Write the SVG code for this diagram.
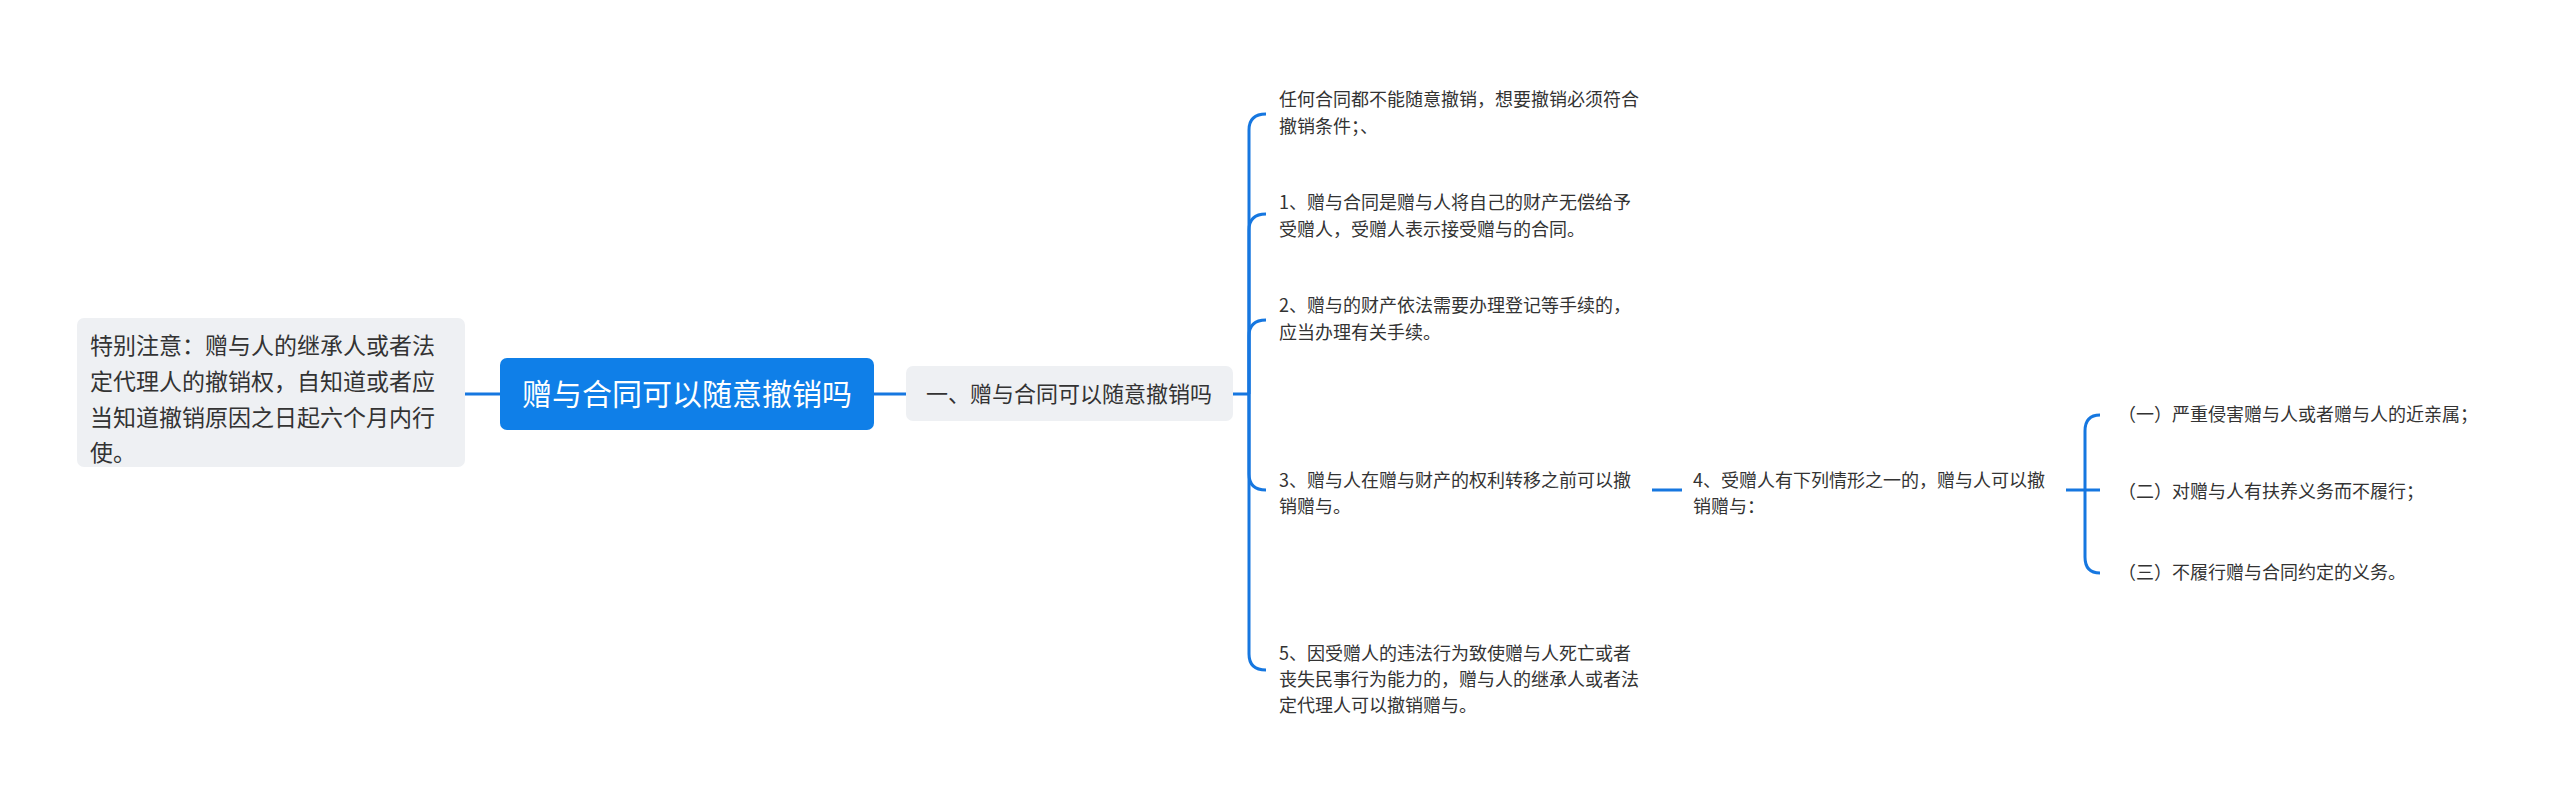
<svg xmlns="http://www.w3.org/2000/svg" width="2560" height="798" viewBox="0 0 2560 798">
<style>
.c{fill:none;stroke:#1677e0;stroke-width:3}
.t{font-family:"Noto Sans CJK SC","Noto Sans",sans-serif;fill:#333}
.s{font-size:18px}
</style>
<rect width="2560" height="798" fill="#fff"/>
<g id="connectors">
<path class="c" d="M465,394H500M874,394H906M1233,394H1249"/>
<path class="c" d="M1249,394V130Q1249,114 1266,114"/>
<path class="c" d="M1249,394V230Q1249,214 1266,214"/>
<path class="c" d="M1249,394V336Q1249,320 1266,320"/>
<path class="c" d="M1249,394V474Q1249,490 1266,490"/>
<path class="c" d="M1249,394V654Q1249,670 1266,670"/>
<path class="c" d="M1652,490H1682M2066,490H2085"/>
<path class="c" d="M2085,490V431Q2085,415 2100,415"/>
<path class="c" d="M2085,490H2100"/>
<path class="c" d="M2085,490V557Q2085,573 2100,573"/>
</g>
<g id="note">
<rect x="77" y="318" width="388" height="149" rx="7" fill="#eef0f3"/>
<text class="t" font-size="23" x="90"><tspan y="354">特别注意：赠与人的继承人或者法</tspan><tspan x="90" y="390">定代理人的撤销权，自知道或者应</tspan><tspan x="90" y="426">当知道撤销原因之日起六个月内行</tspan><tspan x="90" y="461">使。</tspan></text>
</g>
<g id="root">
<rect x="500" y="358" width="374" height="72" rx="7" fill="#0f7fe8"/>
<text x="687" y="405" text-anchor="middle" font-family="Noto Sans CJK SC,sans-serif" font-size="30" fill="#fff">赠与合同可以随意撤销吗</text>
</g>
<g id="sub">
<rect x="906" y="366" width="327" height="55" rx="7" fill="#eef0f3"/>
<text class="t" x="1069" y="402" text-anchor="middle" font-size="22">一、赠与合同可以随意撤销吗</text>
</g>
<g id="n0"><text class="t s" x="1279"><tspan y="106">任何合同都不能随意撤销，想要撤销必须符合</tspan><tspan x="1279" y="133">撤销条件；、</tspan></text></g>
<g id="n1"><text class="t s" x="1279"><tspan y="209">1、赠与合同是赠与人将自己的财产无偿给予</tspan><tspan x="1279" y="236">受赠人，受赠人表示接受赠与的合同。</tspan></text></g>
<g id="n2"><text class="t s" x="1279"><tspan y="312">2、赠与的财产依法需要办理登记等手续的，</tspan><tspan x="1279" y="339">应当办理有关手续。</tspan></text></g>
<g id="n3"><text class="t s" x="1279"><tspan y="487">3、赠与人在赠与财产的权利转移之前可以撤</tspan><tspan x="1279" y="513">销赠与。</tspan></text></g>
<g id="n5"><text class="t s" x="1279"><tspan y="660">5、因受赠人的违法行为致使赠与人死亡或者</tspan><tspan x="1279" y="686">丧失民事行为能力的，赠与人的继承人或者法</tspan><tspan x="1279" y="712">定代理人可以撤销赠与。</tspan></text></g>
<g id="n4"><text class="t s" x="1693"><tspan y="487">4、受赠人有下列情形之一的，赠与人可以撤</tspan><tspan x="1693" y="513">销赠与：</tspan></text></g>
<g id="a1"><text class="t s" x="2118" y="421">（一）严重侵害赠与人或者赠与人的近亲属；</text></g>
<g id="a2"><text class="t s" x="2118" y="498">（二）对赠与人有扶养义务而不履行；</text></g>
<g id="a3"><text class="t s" x="2118" y="579">（三）不履行赠与合同约定的义务。</text></g>
</svg>
